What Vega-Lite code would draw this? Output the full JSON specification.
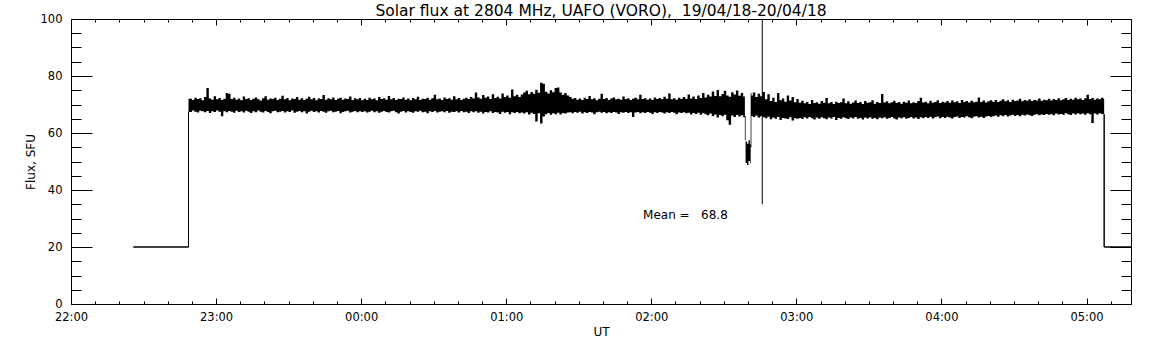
{
"$schema":"https://vega.github.io/schema/vega-lite/v6.json",
"width":1060,"height":285,"autosize":"none",
"padding":{"left":71,"top":19,"right":21,"bottom":41},
"background":"white",
"title":{"text":"Solar flux at 2804 MHz, UAFO (VORO),\u00a0 19/04/18-20/04/18","font":"DejaVu Sans","fontSize":15.5,"fontWeight":"normal","color":"black","anchor":"middle","frame":"group","offset":0,"dy":6},
"config":{"view":{"stroke":null},"axis":{"domainColor":"black","tickColor":"black","labelColor":"black","titleColor":"black","labelFont":"DejaVu Sans","titleFont":"DejaVu Sans","labelFontSize":11.5,"titleFontSize":12,"titleFontWeight":"normal","grid":false,"labelFlush":false,"labelOverlap":false,"domainWidth":1,"tickWidth":1}},
"datasets":{
"band":[
{"t":48.6,"hi":72.0,"lo":67.4},{"t":50,"hi":71.6,"lo":67.9},{"t":51,"hi":72.4,"lo":67.5},{"t":52,"hi":71.9,"lo":67.2},{"t":53,"hi":72.2,"lo":67.8},{"t":54,"hi":71.5,"lo":67.6},{"t":55,"hi":72.6,"lo":67.3},{"t":56,"hi":75.8,"lo":67.7},{"t":57,"hi":72.1,"lo":67.0},{"t":58,"hi":71.7,"lo":67.6},{"t":59,"hi":72.9,"lo":67.4},{"t":60,"hi":71.8,"lo":67.9},{"t":61,"hi":72.3,"lo":67.5},{"t":62,"hi":71.6,"lo":65.9},{"t":63,"hi":72.0,"lo":67.6},{"t":64,"hi":74.0,"lo":67.3},{"t":65,"hi":73.8,"lo":67.7},{"t":66,"hi":71.9,"lo":67.5},{"t":67,"hi":72.4,"lo":67.1},{"t":68,"hi":71.7,"lo":67.8},{"t":69,"hi":72.1,"lo":67.4},{"t":70,"hi":71.5,"lo":67.6},{"t":71,"hi":72.8,"lo":67.2},{"t":72,"hi":71.9,"lo":67.8},{"t":73,"hi":72.2,"lo":67.5},{"t":74,"hi":71.6,"lo":67.0},{"t":75,"hi":72.0,"lo":67.6},{"t":76,"hi":72.5,"lo":67.3},{"t":77,"hi":71.8,"lo":67.9},{"t":78,"hi":71.4,"lo":67.5},{"t":79,"hi":72.2,"lo":67.2},{"t":80,"hi":72.9,"lo":67.7},{"t":81,"hi":71.7,"lo":67.4},{"t":82,"hi":72.1,"lo":66.9},{"t":83,"hi":71.9,"lo":67.6},{"t":84,"hi":72.4,"lo":67.8},{"t":85,"hi":71.6,"lo":67.3},{"t":86,"hi":72.0,"lo":67.5},{"t":87,"hi":73.1,"lo":67.7},{"t":88,"hi":71.8,"lo":67.2},{"t":89,"hi":72.3,"lo":67.6},{"t":90,"hi":71.5,"lo":67.4},{"t":91,"hi":72.1,"lo":67.9},{"t":92,"hi":71.9,"lo":67.1},{"t":93,"hi":72.6,"lo":67.5},{"t":94,"hi":71.7,"lo":67.7},{"t":95,"hi":72.2,"lo":67.3},{"t":96,"hi":71.6,"lo":67.6},{"t":97,"hi":72.0,"lo":66.8},{"t":98,"hi":72.7,"lo":67.5},{"t":99,"hi":71.8,"lo":67.8},{"t":100,"hi":72.3,"lo":67.4},
{"t":101,"hi":71.5,"lo":67.6},{"t":102,"hi":72.1,"lo":67.2},{"t":103,"hi":71.9,"lo":67.7},{"t":104,"hi":73.3,"lo":67.5},{"t":105,"hi":71.7,"lo":67.1},{"t":106,"hi":72.2,"lo":67.6},{"t":107,"hi":71.8,"lo":67.8},{"t":108,"hi":72.5,"lo":67.3},{"t":109,"hi":71.6,"lo":67.5},{"t":110,"hi":72.0,"lo":67.7},{"t":111,"hi":72.4,"lo":66.9},{"t":112,"hi":71.7,"lo":67.4},{"t":113,"hi":72.1,"lo":67.6},{"t":114,"hi":71.9,"lo":67.8},{"t":115,"hi":72.8,"lo":67.2},{"t":116,"hi":71.6,"lo":67.5},{"t":117,"hi":72.2,"lo":67.7},{"t":118,"hi":71.8,"lo":67.3},{"t":119,"hi":72.3,"lo":67.6},{"t":120,"hi":71.5,"lo":67.4},
{"t":121,"hi":72.0,"lo":67.6},{"t":122,"hi":71.6,"lo":67.2},{"t":123,"hi":72.4,"lo":67.5},{"t":124,"hi":71.8,"lo":67.8},{"t":125,"hi":72.1,"lo":67.3},{"t":126,"hi":71.5,"lo":67.6},{"t":127,"hi":72.6,"lo":67.1},{"t":128,"hi":71.9,"lo":67.5},{"t":129,"hi":72.2,"lo":67.7},{"t":130,"hi":71.7,"lo":67.4},{"t":131,"hi":73.0,"lo":67.2},{"t":132,"hi":71.8,"lo":67.6},{"t":133,"hi":72.3,"lo":67.8},{"t":134,"hi":71.6,"lo":67.3},{"t":135,"hi":72.0,"lo":66.8},{"t":136,"hi":71.9,"lo":67.5},{"t":137,"hi":72.5,"lo":67.7},{"t":138,"hi":71.7,"lo":67.2},{"t":139,"hi":72.1,"lo":67.6},{"t":140,"hi":71.5,"lo":67.4},{"t":141,"hi":72.3,"lo":67.1},{"t":142,"hi":71.8,"lo":67.6},{"t":143,"hi":72.7,"lo":67.5},{"t":144,"hi":71.6,"lo":67.8},{"t":145,"hi":72.0,"lo":67.3},{"t":146,"hi":71.9,"lo":67.5},{"t":147,"hi":72.4,"lo":66.9},{"t":148,"hi":71.7,"lo":67.6},{"t":149,"hi":72.2,"lo":67.4},{"t":150,"hi":73.4,"lo":67.7},
{"t":151,"hi":71.8,"lo":67.2},{"t":152,"hi":72.1,"lo":67.5},{"t":153,"hi":71.6,"lo":67.6},{"t":154,"hi":72.5,"lo":67.3},{"t":155,"hi":71.9,"lo":67.7},{"t":156,"hi":72.2,"lo":67.1},{"t":157,"hi":71.7,"lo":67.5},{"t":158,"hi":72.9,"lo":67.4},{"t":159,"hi":71.8,"lo":67.6},{"t":160,"hi":72.3,"lo":67.2},{"t":161,"hi":71.6,"lo":67.7},{"t":162,"hi":72.0,"lo":67.3},{"t":163,"hi":72.4,"lo":67.5},{"t":164,"hi":71.9,"lo":67.0},{"t":165,"hi":72.6,"lo":67.6},{"t":166,"hi":72.1,"lo":67.3},{"t":167,"hi":74.2,"lo":67.6},{"t":168,"hi":72.5,"lo":67.1},{"t":169,"hi":72.0,"lo":67.5},{"t":170,"hi":73.3,"lo":66.8},{"t":171,"hi":72.4,"lo":67.4},{"t":172,"hi":72.8,"lo":67.2},{"t":173,"hi":71.9,"lo":67.6},{"t":174,"hi":73.6,"lo":67.0},{"t":175,"hi":72.3,"lo":67.4},{"t":176,"hi":72.7,"lo":67.2},{"t":177,"hi":72.1,"lo":66.7},{"t":178,"hi":73.9,"lo":67.5},{"t":179,"hi":72.6,"lo":67.1},{"t":180,"hi":73.2,"lo":67.4},{"t":181,"hi":72.4,"lo":66.6},{"t":182,"hi":75.3,"lo":67.3},{"t":183,"hi":72.9,"lo":67.0},{"t":184,"hi":73.4,"lo":67.4},{"t":185,"hi":72.6,"lo":66.9},
{"t":186,"hi":73.5,"lo":67.2},{"t":187,"hi":74.2,"lo":66.8},{"t":188,"hi":74.8,"lo":67.3},{"t":189,"hi":73.6,"lo":66.5},{"t":190,"hi":74.4,"lo":67.1},{"t":191,"hi":73.8,"lo":66.7},{"t":192,"hi":75.2,"lo":64.0},{"t":193,"hi":74.1,"lo":66.9},{"t":194,"hi":77.6,"lo":63.3},{"t":195,"hi":77.3,"lo":65.8},{"t":196,"hi":74.5,"lo":66.6},{"t":197,"hi":73.9,"lo":67.0},{"t":198,"hi":75.0,"lo":66.4},{"t":199,"hi":74.3,"lo":66.9},{"t":200,"hi":75.8,"lo":66.6},{"t":201,"hi":76.0,"lo":67.1},{"t":202,"hi":74.2,"lo":66.5},{"t":203,"hi":73.4,"lo":67.0},{"t":204,"hi":74.0,"lo":66.8},{"t":205,"hi":73.2,"lo":67.2},
{"t":206,"hi":72.6,"lo":67.3},{"t":207,"hi":72.0,"lo":66.9},{"t":208,"hi":72.3,"lo":67.4},{"t":209,"hi":71.7,"lo":67.1},{"t":210,"hi":72.1,"lo":67.5},{"t":211,"hi":71.6,"lo":66.8},{"t":212,"hi":72.4,"lo":67.3},{"t":213,"hi":71.9,"lo":67.0},{"t":214,"hi":73.0,"lo":67.4},{"t":215,"hi":71.8,"lo":67.2},{"t":216,"hi":72.2,"lo":66.6},{"t":217,"hi":71.5,"lo":67.3},{"t":218,"hi":72.0,"lo":67.5},{"t":219,"hi":73.8,"lo":67.1},{"t":220,"hi":71.9,"lo":67.4},{"t":221,"hi":72.3,"lo":66.9},{"t":222,"hi":71.6,"lo":67.3},{"t":223,"hi":72.1,"lo":67.0},{"t":224,"hi":72.5,"lo":67.4},{"t":225,"hi":71.8,"lo":67.2},{"t":226,"hi":72.0,"lo":66.7},{"t":227,"hi":71.7,"lo":67.3},{"t":228,"hi":72.8,"lo":67.1},{"t":229,"hi":71.9,"lo":67.4},{"t":230,"hi":72.2,"lo":67.0},{"t":231,"hi":71.6,"lo":67.3},{"t":232,"hi":72.0,"lo":65.6},{"t":233,"hi":72.4,"lo":67.2},{"t":234,"hi":71.8,"lo":67.4},{"t":235,"hi":73.4,"lo":66.9},{"t":236,"hi":71.9,"lo":67.3},{"t":237,"hi":72.2,"lo":67.0},{"t":238,"hi":71.7,"lo":67.4},{"t":239,"hi":72.1,"lo":67.1},{"t":240,"hi":71.6,"lo":66.7},{"t":241,"hi":72.5,"lo":67.3},{"t":242,"hi":71.9,"lo":67.0},{"t":243,"hi":72.3,"lo":67.4},{"t":244,"hi":71.8,"lo":67.2},{"t":245,"hi":72.7,"lo":66.8},{"t":246,"hi":72.0,"lo":67.3},{"t":247,"hi":73.9,"lo":67.0},{"t":248,"hi":71.8,"lo":67.4},{"t":249,"hi":72.2,"lo":67.1},{"t":250,"hi":71.7,"lo":66.6},{"t":251,"hi":72.4,"lo":67.2},{"t":252,"hi":71.9,"lo":67.0},{"t":253,"hi":72.6,"lo":67.3},{"t":254,"hi":72.0,"lo":66.9},{"t":255,"hi":73.5,"lo":67.1},{"t":256,"hi":72.1,"lo":66.5},{"t":257,"hi":72.8,"lo":67.0},{"t":258,"hi":71.9,"lo":66.7},{"t":259,"hi":73.2,"lo":67.1},{"t":260,"hi":72.3,"lo":66.4},{"t":261,"hi":74.0,"lo":66.9},{"t":262,"hi":72.5,"lo":66.6},
{"t":263,"hi":73.4,"lo":66.2},{"t":264,"hi":72.8,"lo":66.8},{"t":265,"hi":74.6,"lo":66.0},{"t":266,"hi":73.0,"lo":66.5},{"t":267,"hi":75.1,"lo":65.4},{"t":268,"hi":72.9,"lo":66.3},{"t":269,"hi":73.7,"lo":65.9},{"t":270,"hi":74.8,"lo":66.4},{"t":271,"hi":73.2,"lo":64.5},{"t":272,"hi":72.7,"lo":62.9},{"t":273,"hi":74.3,"lo":66.1},{"t":274,"hi":73.5,"lo":65.6},{"t":275,"hi":74.9,"lo":66.3},{"t":276,"hi":73.1,"lo":65.8},{"t":277,"hi":74.0,"lo":66.2},{"t":278,"hi":72.8,"lo":65.5},
{"t":278.7,"hi":66.0,"lo":57.5},{"t":279.0,"hi":57.0,"lo":49.5},{"t":279.6,"hi":56.2,"lo":48.8},{"t":280.2,"hi":57.5,"lo":50.2},{"t":280.8,"hi":56.0,"lo":49.4},{"t":281.1,"hi":74.0,"lo":55.0},{"t":281.4,"hi":73.2,"lo":66.0},
{"t":282,"hi":74.2,"lo":65.6},{"t":283,"hi":72.6,"lo":66.1},{"t":284,"hi":73.8,"lo":65.4},{"t":285,"hi":72.9,"lo":65.9},{"t":286,"hi":74.4,"lo":65.5},{"t":287,"hi":71.8,"lo":65.2},{"t":288,"hi":73.6,"lo":65.7},{"t":289,"hi":71.2,"lo":64.8},{"t":290,"hi":72.4,"lo":65.4},{"t":291,"hi":70.9,"lo":65.0},{"t":292,"hi":74.0,"lo":65.6},{"t":293,"hi":71.5,"lo":64.6},{"t":294,"hi":72.1,"lo":65.3},{"t":295,"hi":71.0,"lo":65.1},{"t":296,"hi":73.2,"lo":64.9},{"t":297,"hi":71.4,"lo":65.5},{"t":298,"hi":72.6,"lo":64.4},{"t":299,"hi":70.8,"lo":65.2},{"t":300,"hi":71.9,"lo":65.0},
{"t":301,"hi":70.6,"lo":65.3},{"t":302,"hi":71.3,"lo":64.9},{"t":303,"hi":70.4,"lo":65.5},{"t":304,"hi":70.9,"lo":65.1},{"t":305,"hi":70.2,"lo":65.6},{"t":306,"hi":71.6,"lo":65.2},{"t":307,"hi":70.5,"lo":64.7},{"t":308,"hi":70.8,"lo":65.4},{"t":309,"hi":70.3,"lo":65.0},{"t":310,"hi":71.2,"lo":65.5},{"t":311,"hi":70.6,"lo":65.2},{"t":312,"hi":72.3,"lo":64.8},{"t":313,"hi":70.4,"lo":65.4},{"t":314,"hi":70.9,"lo":65.1},{"t":315,"hi":70.2,"lo":65.6},{"t":316,"hi":71.0,"lo":64.6},{"t":317,"hi":70.5,"lo":65.3},{"t":318,"hi":70.8,"lo":65.0},{"t":319,"hi":72.1,"lo":65.5},{"t":320,"hi":70.4,"lo":65.2},{"t":321,"hi":71.1,"lo":64.9},{"t":322,"hi":70.3,"lo":65.4},{"t":323,"hi":70.7,"lo":65.1},{"t":324,"hi":71.4,"lo":65.6},{"t":325,"hi":70.5,"lo":65.0},{"t":326,"hi":70.9,"lo":65.3},{"t":327,"hi":70.2,"lo":64.7},{"t":328,"hi":71.2,"lo":65.4},{"t":329,"hi":70.6,"lo":65.1},{"t":330,"hi":70.8,"lo":65.5},{"t":331,"hi":71.5,"lo":65.0},{"t":332,"hi":70.3,"lo":65.3},{"t":333,"hi":70.9,"lo":64.8},{"t":334,"hi":70.5,"lo":65.4},{"t":335,"hi":73.7,"lo":65.2},{"t":336,"hi":70.7,"lo":65.5},{"t":337,"hi":71.1,"lo":65.0},{"t":338,"hi":70.4,"lo":65.3},{"t":339,"hi":70.8,"lo":65.6},{"t":340,"hi":71.3,"lo":65.1},{"t":341,"hi":70.5,"lo":64.7},{"t":342,"hi":70.9,"lo":65.4},{"t":343,"hi":70.3,"lo":65.2},{"t":344,"hi":71.0,"lo":65.5},{"t":345,"hi":70.6,"lo":65.0},{"t":346,"hi":71.4,"lo":65.3},{"t":347,"hi":70.4,"lo":65.6},{"t":348,"hi":70.8,"lo":65.1},{"t":349,"hi":70.5,"lo":65.4},{"t":350,"hi":71.2,"lo":64.9},
{"t":351,"hi":72.4,"lo":65.5},{"t":352,"hi":70.7,"lo":65.2},{"t":353,"hi":71.0,"lo":65.6},{"t":354,"hi":70.4,"lo":65.3},{"t":355,"hi":71.3,"lo":65.7},{"t":356,"hi":70.6,"lo":65.1},{"t":357,"hi":70.9,"lo":65.5},{"t":358,"hi":71.5,"lo":65.8},{"t":359,"hi":70.5,"lo":65.2},{"t":360,"hi":71.0,"lo":65.6},{"t":361,"hi":70.7,"lo":65.3},{"t":362,"hi":71.2,"lo":65.7},{"t":363,"hi":70.6,"lo":65.4},{"t":364,"hi":71.4,"lo":65.1},{"t":365,"hi":70.8,"lo":65.6},{"t":366,"hi":71.1,"lo":65.8},{"t":367,"hi":70.5,"lo":65.3},{"t":368,"hi":71.6,"lo":65.6},{"t":369,"hi":70.9,"lo":65.4},{"t":370,"hi":71.2,"lo":65.9},{"t":371,"hi":70.7,"lo":65.5},{"t":372,"hi":71.3,"lo":65.2},{"t":373,"hi":70.8,"lo":65.7},{"t":374,"hi":71.0,"lo":65.9},{"t":375,"hi":72.5,"lo":65.4},{"t":376,"hi":70.9,"lo":65.7},{"t":377,"hi":71.4,"lo":65.3},{"t":378,"hi":70.7,"lo":65.8},{"t":379,"hi":71.1,"lo":66.0},{"t":380,"hi":71.5,"lo":65.6},
{"t":381,"hi":71.0,"lo":65.9},{"t":382,"hi":71.6,"lo":66.1},{"t":383,"hi":70.9,"lo":65.7},{"t":384,"hi":71.3,"lo":66.2},{"t":385,"hi":71.8,"lo":65.9},{"t":386,"hi":71.1,"lo":66.3},{"t":387,"hi":71.5,"lo":65.8},{"t":388,"hi":70.9,"lo":66.1},{"t":389,"hi":71.7,"lo":66.4},{"t":390,"hi":71.2,"lo":66.0},{"t":391,"hi":71.4,"lo":66.3},{"t":392,"hi":72.0,"lo":65.9},{"t":393,"hi":71.1,"lo":66.4},{"t":394,"hi":71.6,"lo":66.1},{"t":395,"hi":71.3,"lo":66.5},{"t":396,"hi":71.8,"lo":66.2},{"t":397,"hi":71.2,"lo":66.0},{"t":398,"hi":71.6,"lo":66.4},{"t":399,"hi":71.4,"lo":66.6},{"t":400,"hi":72.1,"lo":66.2},{"t":401,"hi":71.3,"lo":66.5},{"t":402,"hi":71.7,"lo":66.3},{"t":403,"hi":71.5,"lo":66.7},{"t":404,"hi":72.0,"lo":66.4},{"t":405,"hi":71.4,"lo":66.6},{"t":406,"hi":71.9,"lo":66.2},{"t":407,"hi":71.6,"lo":66.8},{"t":408,"hi":72.2,"lo":66.5},{"t":409,"hi":71.5,"lo":66.7},{"t":410,"hi":71.8,"lo":66.4},{"t":411,"hi":72.3,"lo":66.9},{"t":412,"hi":71.6,"lo":66.6},{"t":413,"hi":72.0,"lo":66.3},{"t":414,"hi":71.7,"lo":66.8},{"t":415,"hi":72.4,"lo":66.5},{"t":416,"hi":71.8,"lo":66.9},{"t":417,"hi":72.1,"lo":66.6},{"t":418,"hi":71.6,"lo":66.8},{"t":419,"hi":72.2,"lo":66.4},{"t":420,"hi":73.4,"lo":66.9},{"t":421,"hi":71.9,"lo":66.6},{"t":422,"hi":72.3,"lo":63.5},{"t":423,"hi":71.7,"lo":66.8},{"t":424,"hi":72.1,"lo":66.5},{"t":425,"hi":71.8,"lo":66.9},{"t":426,"hi":72.4,"lo":66.7},{"t":427,"hi":71.9,"lo":66.6},{"t":427.3,"hi":71.9,"lo":66.6}
],
"lvl":[
{"seg":"a","i":1,"t":25.8,"v":20},{"seg":"a","i":2,"t":48.6,"v":20},{"seg":"a","i":3,"t":48.6,"v":67.4},
{"seg":"b","i":1,"t":427.3,"v":66.6},{"seg":"b","i":2,"t":427.3,"v":20},{"seg":"b","i":3,"t":438.4,"v":20}
],
"spike":[{"t":285.9,"lo":35,"hi":100}],
"note":[{"t":236.6,"v":31.2,"label":"Mean =\u00a0\u00a0\u00a068.8"}]
},
"resolve":{"axis":{"x":"independent","y":"independent"}},
"layer":[
{"data":{"name":"band"},"mark":{"type":"area","interpolate":"step-after","color":"black","opacity":1},
"encoding":{
"x":{"field":"t","type":"quantitative","scale":{"domain":[0,438.4],"nice":false,"zero":false},
"axis":{"orient":"bottom","title":"UT","values":[0,60,120,180,240,300,360,420],"tickSize":-6,
"labelExpr":"datum.value == 0 ? '22:00' : datum.value == 60 ? '23:00' : datum.value == 120 ? '00:00' : datum.value == 180 ? '01:00' : datum.value == 240 ? '02:00' : datum.value == 300 ? '03:00' : datum.value == 360 ? '04:00' : '05:00'","labelPadding":13,"titlePadding":4}},
"y":{"field":"hi","type":"quantitative","scale":{"domain":[0,100],"nice":false,"zero":false},
"axis":{"orient":"left","title":"Flux, SFU","values":[0,20,40,60,80,100],"tickSize":-21,"labelPadding":30,"titlePadding":3}},
"y2":{"field":"lo"}}},
{"data":{"name":"spike"},"mark":{"type":"rule","color":"black","strokeWidth":1},
"encoding":{"x":{"field":"t","type":"quantitative","scale":{"domain":[0,438.4],"nice":false,"zero":false},
"axis":{"orient":"bottom","title":null,"labels":false,"domain":false,"tickSize":-3,"values":[10,20,30,40,50,70,80,90,100,110,130,140,150,160,170,190,200,210,220,230,250,260,270,280,290,310,320,330,340,350,370,380,390,400,410,430]}},
"y":{"field":"lo","type":"quantitative","scale":{"domain":[0,100],"nice":false,"zero":false},
"axis":{"orient":"left","title":null,"labels":false,"domain":false,"tickSize":-10,"values":[5,10,15,25,30,35,45,50,55,65,70,75,85,90,95]}},
"y2":{"field":"hi"}}},
{"data":{"name":"lvl"},"mark":{"type":"line","color":"black","strokeWidth":1},
"encoding":{"x":{"field":"t","type":"quantitative","scale":{"domain":[0,438.4],"nice":false,"zero":false},
"axis":{"orient":"top","title":null,"labels":false,"tickSize":-6,"values":[0,60,120,180,240,300,360,420]}},
"y":{"field":"v","type":"quantitative","scale":{"domain":[0,100],"nice":false,"zero":false},
"axis":{"orient":"right","title":null,"labels":false,"tickSize":-21,"values":[0,20,40,60,80,100]}},
"detail":{"field":"seg"},"order":{"field":"i","type":"quantitative"}}},
{"data":{"name":"lvl"},"mark":{"type":"line","color":"black","strokeWidth":1},
"encoding":{"x":{"field":"t","type":"quantitative","scale":{"domain":[0,438.4],"nice":false,"zero":false},
"axis":{"orient":"top","title":null,"labels":false,"domain":false,"tickSize":-3,"values":[10,20,30,40,50,70,80,90,100,110,130,140,150,160,170,190,200,210,220,230,250,260,270,280,290,310,320,330,340,350,370,380,390,400,410,430]}},
"y":{"field":"v","type":"quantitative","scale":{"domain":[0,100],"nice":false,"zero":false},
"axis":{"orient":"right","title":null,"labels":false,"domain":false,"tickSize":-10,"values":[5,10,15,25,30,35,45,50,55,65,70,75,85,90,95]}},
"detail":{"field":"seg"},"order":{"field":"i","type":"quantitative"}}},
{"data":{"name":"note"},"mark":{"type":"text","align":"left","baseline":"middle","font":"DejaVu Sans","fontSize":12,"color":"black"},
"encoding":{"x":{"field":"t","type":"quantitative","scale":{"domain":[0,438.4],"nice":false,"zero":false},"axis":null},
"y":{"field":"v","type":"quantitative","scale":{"domain":[0,100],"nice":false,"zero":false},"axis":null},
"text":{"field":"label"}}}
]
}
